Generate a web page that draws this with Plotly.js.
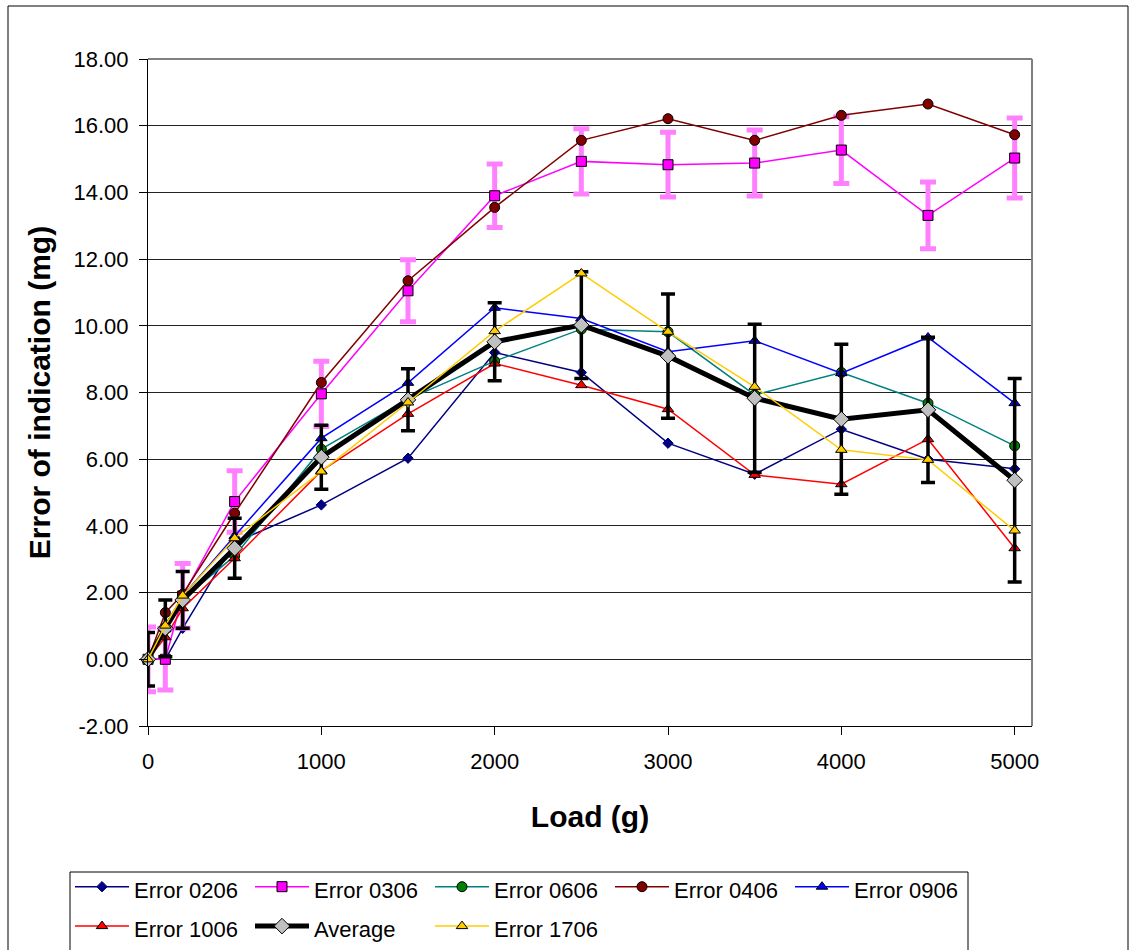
<!DOCTYPE html>
<html>
<head>
<meta charset="utf-8">
<script src="https://cdn.plot.ly/plotly-3.0.1.min.js"></script>
<style>
  html, body { margin: 0; padding: 0; background: #fff; }
  #chart { width: 1134px; height: 950px; }
</style>
</head>
<body>
<div id="chart"></div>
<script>
// ---- data ----
const loads = [0, 100, 200, 500, 1000, 1500, 2000, 2500, 3000, 3500, 4000, 4500, 5000];

const err0206 = [0, 0.00, 0.93, 3.50, 4.63, 6.03, 9.20, 8.60, 6.48, 5.55, 6.90, 6.00, 5.71];
const err0306 = [0, 0.00, 1.90, 4.73, 7.96, 11.05, 13.90, 14.93, 14.83, 14.88, 15.27, 13.31, 15.03];
const err0606 = [0, 0.90, 1.80, 3.10, 6.30, 7.80, 8.94, 9.90, 9.82, 7.93, 8.60, 7.68, 6.40];
const err0406 = [0, 1.40, 1.95, 4.38, 8.30, 11.35, 13.55, 15.56, 16.21, 15.56, 16.31, 16.65, 15.73];
const err0906 = [0, 0.90, 1.90, 3.70, 6.63, 8.29, 10.54, 10.22, 9.22, 9.55, 8.58, 9.65, 7.68];
const err1006 = [0, 0.66, 1.53, 3.03, 5.65, 7.36, 8.87, 8.22, 7.50, 5.53, 5.25, 6.60, 3.33];
const average = [0, 0.93, 1.78, 3.33, 6.06, 7.78, 9.52, 10.02, 9.09, 7.83, 7.20, 7.48, 5.37];
const err1706 = [0, 1.01, 1.91, 3.63, 5.63, 7.70, 9.84, 11.57, 9.82, 8.17, 6.28, 5.98, 3.86];

// error bar half-widths
const err0306Bars = [0.97, 0.92, 0.97, 0.92, 0.98, 0.93, 0.95, 0.98, 0.97, 0.99, 1.00, 1.00, 1.20];
const averageBars = [0.80, 0.85, 0.85, 0.90, 0.96, 0.93, 1.17, 1.60, 1.86, 2.22, 2.25, 2.18, 3.05];

const seriesNames = ["Error 0206", "Error 0306", "Error 0606", "Error 0406", "Error 0906", "Error 1006", "Average", "Error 1706"];
const yTickVals = [-2, 0, 2, 4, 6, 8, 10, 12, 14, 16, 18];
const xTickVals = [0, 1000, 2000, 3000, 4000, 5000];

// ---- styling ----
const FONT = "Liberation Sans, Arial, sans-serif";
const legendLabel = n => '<span style="font-size:22px">' + n + '</span>';

function series(name, y, lineColor, lineWidth, symbol, size, fill, outline, errs, errColor, errThick, errWidth) {
  const t = {
    type: "scatter", mode: "lines+markers", name: legendLabel(name),
    x: loads, y: y, cliponaxis: false,
    line: { color: lineColor, width: lineWidth },
    marker: { symbol: symbol, size: size, color: fill, line: { color: outline, width: 1 } }
  };
  if (errs) {
    t.error_y = { type: "data", array: errs, visible: true, color: errColor, thickness: errThick, width: errWidth };
  }
  return t;
}

const data = [
  series(seriesNames[0], err0206, "#000080", 1.5, "diamond", 8, "#000080", "#000080"),
  series(seriesNames[1], err0306, "#FF00FF", 1.5, "square", 10, "#FF00FF", "#000000", err0306Bars, "#FF80FF", 5, 8),
  series(seriesNames[2], err0606, "#008080", 1.5, "circle", 10, "#008000", "#000000"),
  series(seriesNames[3], err0406, "#800000", 1.5, "circle", 10, "#800000", "#000000"),
  series(seriesNames[4], err0906, "#0000FF", 1.5, "triangle-up", 10, "#0000FF", "#000000"),
  series(seriesNames[5], err1006, "#FF0000", 1.5, "triangle-up", 10, "#FF0000", "#000000"),
  series(seriesNames[6], average, "#000000", 5, "diamond", 12, "#C0C0C0", "#000000", averageBars, "#000000", 3.5, 7),
  series(seriesNames[7], err1706, "#FFCC00", 1.5, "triangle-up", 10, "#FFCC00", "#000000")
];

const L = 148, R = 1032, T = 59, B = 726, W = 1134, H = 950;
const pw = R - L, ph = B - T;
const px = v => (v - L) / pw;
const py = v => (B - v) / ph;

const layout = {
  width: W, height: H,
  margin: { l: L, r: W - R, t: T, b: H - B, autoexpand: false },
  paper_bgcolor: "#ffffff",
  plot_bgcolor: "#ffffff",
  font: { family: FONT, size: 22, color: "#000" },
  showlegend: true,
  xaxis: {
    range: [0, 5100],
    tickvals: xTickVals,
    ticktext: xTickVals.map(String),
    ticks: "outside", ticklen: 8, tickcolor: "#000", tickwidth: 1,
    ticklabelstandoff: 8,
    showgrid: false, zeroline: false,
    showline: true, linecolor: "#000", linewidth: 1,
    tickfont: { family: FONT, size: 22, color: "#000" },
    title: { text: "<b>Load (g)</b>", font: { family: FONT, size: 30, color: "#000" }, standoff: 32 },
    automargin: false
  },
  yaxis: {
    range: [-2, 18],
    tickvals: yTickVals,
    ticktext: yTickVals.map(v => v.toFixed(2)),
    ticks: "outside", ticklen: 8, tickcolor: "#000", tickwidth: 1,
    ticklabelstandoff: 6,
    showgrid: true, gridcolor: "#222", gridwidth: 1,
    zeroline: false,
    showline: true, linecolor: "#000", linewidth: 1,
    tickfont: { family: FONT, size: 22, color: "#000" },
    title: { text: "<b>Error of indication (mg)</b>", font: { family: FONT, size: 30, color: "#000" }, standoff: 14 },
    automargin: false
  },
  legend: {
    orientation: "h",
    x: px(70), y: py(862), xanchor: "left", yanchor: "top",
    borderwidth: 0,
    bgcolor: "rgba(0,0,0,0)",
    font: { family: FONT, size: 28, color: "#000" },
    itemwidth: 54,
    entrywidthmode: "pixels", entrywidth: 111,
    traceorder: "normal",
    itemclick: false
  },
  shapes: [
    // plot area border (top & right, grey)
    { type: "line", xref: "paper", yref: "paper", x0: 0, x1: 1, y0: 1, y1: 1, line: { color: "#808080", width: 2 } },
    { type: "line", xref: "paper", yref: "paper", x0: 1, x1: 1, y0: 0, y1: 1, line: { color: "#808080", width: 2 } },
    // outer chart frame
    { type: "rect", xref: "paper", yref: "paper", x0: px(8), x1: px(1128), y0: py(965), y1: py(6),
      line: { color: "#000", width: 1 }, fillcolor: "rgba(0,0,0,0)", layer: "below" },
    // legend frame
    { type: "rect", xref: "paper", yref: "paper", x0: px(70), x1: px(968), y0: py(965), y1: py(872),
      line: { color: "#000", width: 1 }, fillcolor: "rgba(0,0,0,0)", layer: "below" }
  ]
};

Plotly.newPlot("chart", data, layout, { staticPlot: true, displayModeBar: false });
</script>
</body>
</html>
